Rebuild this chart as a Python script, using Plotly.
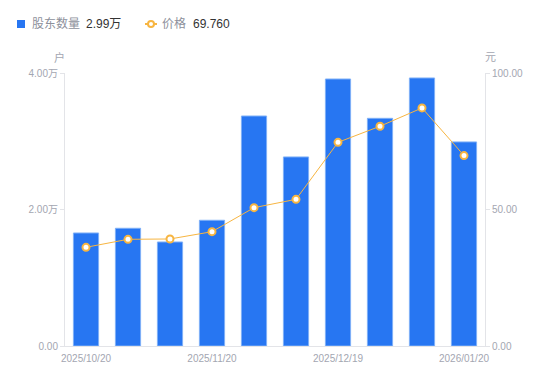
import plotly.graph_objects as go

dates = ["2025/10/20", "2025/10/31", "2025/11/10", "2025/11/20", "2025/11/28",
         "2025/12/10", "2025/12/19", "2025/12/31", "2026/01/09", "2026/01/20"]
holders = [16560, 17250, 15240, 18420, 33700, 27700, 39120, 33360, 39270, 29900]
prices = [36.15, 39.08, 39.2, 41.87, 50.67, 53.72, 74.6, 80.5, 87.2, 69.76]
x_ticks = ["2025/10/20", "2025/11/20", "2025/12/19", "2026/01/20"]
left_ticks = [0, 20000, 40000]
left_labels = ["0.00", "2.00万", "4.00万"]
right_ticks = [0, 50, 100]
right_labels = ["0.00", "50.00", "100.00"]

W, H = 550, 381
L, R, T, B = 65, 65, 73, 35
grey = "#a3a6b1"
axis_line = "#e3e4e8"
blue = "#2776F2"
orange = "#f7b541"
FONT = "Liberation Sans, Arial, Noto Sans CJK SC, sans-serif"

def px(x):  # container pixel -> paper x
    return (x - L) / (W - L - R)

def py(y):  # container pixel -> paper y
    return (H - B - y) / (H - T - B)

fig = go.Figure()
fig.add_trace(go.Bar(
    x=dates, y=holders, name="股东数量",
    marker=dict(color=blue, line=dict(color="#7fb0f7", width=1)),
    width=0.6, yaxis="y",
))
fig.add_trace(go.Scatter(
    x=dates, y=prices, name="价格",
    mode="lines+markers", yaxis="y2",
    line=dict(color=orange, width=1),
    marker=dict(color="white", size=7, line=dict(color=orange, width=2)),
))

legend_font = dict(size=12, color="#8d909b")
value_font = dict(size=12, color="#333333")
shapes = [
    dict(type="rect", xref="paper", yref="paper", x0=px(17), x1=px(25), y0=py(28), y1=py(20),
         fillcolor=blue, line=dict(width=0)),
    dict(type="line", xref="paper", yref="paper", x0=px(145), x1=px(157), y0=py(24), y1=py(24),
         line=dict(color=orange, width=2)),
    dict(type="circle", xref="paper", yref="paper", x0=px(148), x1=px(154), y0=py(27), y1=py(21),
         fillcolor="white", line=dict(color=orange, width=2)),
]
annotations = [
    dict(text="股东数量", x=px(30), y=py(24), xanchor="left", yanchor="middle", font=legend_font),
    dict(text="2.99万", x=px(84), y=py(24), xanchor="left", yanchor="middle", font=value_font),
    dict(text="价格", x=px(160), y=py(24), xanchor="left", yanchor="middle", font=legend_font),
    dict(text="69.760", x=px(191), y=py(24), xanchor="left", yanchor="middle", font=value_font),
    dict(text="户", x=px(59), y=py(57), xanchor="center", yanchor="middle",
         font=dict(size=11, color=grey)),
    dict(text="元", x=px(490), y=py(57), xanchor="center", yanchor="middle",
         font=dict(size=11, color=grey)),
]
for a in annotations:
    a.update(xref="paper", yref="paper", showarrow=False)

fig.update_layout(
    width=W, height=H,
    margin=dict(l=L, r=R, t=T, b=B, autoexpand=False),
    plot_bgcolor="white", paper_bgcolor="white",
    font=dict(family=FONT, color=grey, size=10),
    showlegend=False,
    shapes=shapes,
    annotations=annotations,
    xaxis=dict(type="category", range=[-0.5, len(dates) - 0.5],
               tickvals=x_ticks, ticktext=x_ticks, automargin=False,
               showgrid=False, showline=True, linecolor=axis_line, linewidth=1,
               ticks="", ticklabelstandoff=3, tickfont=dict(size=10, color=grey),
               fixedrange=True),
    yaxis=dict(range=[0, 40000], tickvals=left_ticks, ticktext=left_labels, automargin=False,
               showgrid=False, showline=True, linecolor=axis_line, linewidth=1,
               ticks="outside", ticklen=4, tickcolor=axis_line,
               tickfont=dict(size=10, color=grey), zeroline=False),
    yaxis2=dict(range=[0, 100], tickvals=right_ticks, ticktext=right_labels, automargin=False,
                overlaying="y", side="right",
                showgrid=False, showline=True, linecolor=axis_line, linewidth=1,
                ticks="outside", ticklen=4, tickcolor=axis_line,
                tickfont=dict(size=10, color=grey), zeroline=False),
)

fig.write_html("out.html", config={"displayModeBar": False},
               post_script="document.body.style.margin='0';document.body.style.overflow='hidden';")
